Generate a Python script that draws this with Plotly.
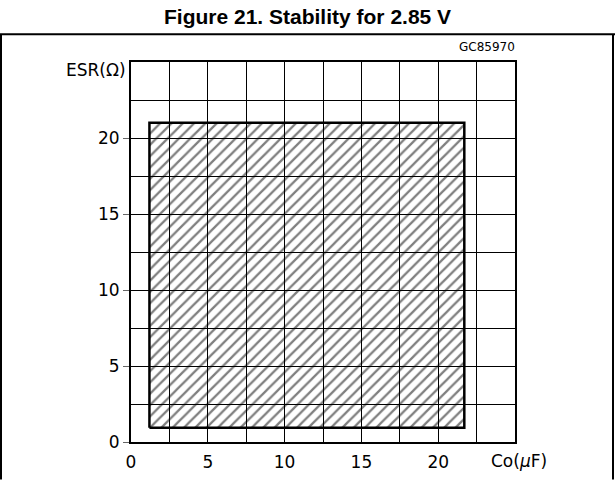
"""
Stability region chart (ESR vs output capacitance) for the 2.85 V version.
"""

import plotly.graph_objects as go

# data
co_ticks = [0, 5, 10, 15, 20]
esr_ticks = [0, 5, 10, 15, 20]
co_range = [0, 25]
esr_range = [0, 25]

# stable region: corners of the hatched box
co_min, co_max = 1.2, 21.7
esr_min, esr_max = 0.93, 21.0

W, H = 615, 484
L, R, T, B = 131, 100, 62, 38
PW, PH = W - L - R, H - T - B


def px(x):
    return (x - L) / PW


def py(y):
    return (H - B - y) / PH


fig = go.Figure()
fig.add_trace(
    go.Scatter(
        x=[co_min, co_max, co_max, co_min, co_min],
        y=[esr_min, esr_min, esr_max, esr_max, esr_min],
        mode="lines",
        fill="toself",
        fillcolor="rgba(0,0,0,0)",
        fillpattern=dict(shape="/", fgcolor="black", bgcolor="rgba(0,0,0,0)",
                         size=8, solidity=0.28),
        line=dict(color="black", width=2.5),
        hoverinfo="skip",
    )
)

tick_font = dict(family="DejaVu Sans", size=17, color="black")
axis_common = dict(
    showline=True, linecolor="black", linewidth=2, mirror=True,
    showgrid=True, gridcolor="black", gridwidth=1,
    minor=dict(dtick=2.5, tick0=0, showgrid=True, gridcolor="black", gridwidth=1),
    zeroline=False, tickfont=tick_font,
)
fig.update_xaxes(range=co_range, tickvals=co_ticks, ticks="",
                 ticklabelstandoff=4, **axis_common)
fig.update_yaxes(range=esr_range, tickvals=esr_ticks, ticks="outside",
                 ticklen=6, tickcolor="#666", **axis_common)

fig.add_annotation(text="ESR(Ω)", xref="paper", yref="paper",
                   x=px(128), y=py(70), xanchor="right", yanchor="middle",
                   showarrow=False, font=tick_font)
fig.add_annotation(text="Co(<i>μ</i>F)", xref="paper", yref="paper",
                   x=px(489), y=py(465), xanchor="left", yanchor="middle",
                   showarrow=False, font=tick_font)
fig.add_annotation(text="GC85970", xref="paper", yref="paper",
                   x=px(517), y=py(47), xanchor="right", yanchor="middle",
                   showarrow=False,
                   font=dict(family="DejaVu Sans", size=12, color="black"))
fig.add_annotation(text="<b>Figure 21. Stability for 2.85 V</b>",
                   xref="paper", yref="paper", x=px(307), y=py(16),
                   xanchor="center", yanchor="middle", showarrow=False,
                   font=dict(family="Liberation Sans", size=21, color="black"))

# frame around the figure with a rule under the title
frame = dict(type="line", xref="paper", yref="paper",
             line=dict(color="black", width=2))
fig.add_shape(x0=px(0), x1=px(W), y0=py(34), y1=py(34), **frame)
fig.add_shape(x0=px(1), x1=px(1), y0=py(34), y1=py(H), **frame)
fig.add_shape(x0=px(613), x1=px(613), y0=py(34), y1=py(H), **frame)

fig.update_layout(
    width=W, height=H,
    margin=dict(l=L, r=R, t=T, b=B),
    paper_bgcolor="white", plot_bgcolor="white",
    showlegend=False,
)

# the page's default body margin would shift the figure by 8px
fig.write_html("out.html", config={"displayModeBar": False},
               post_script="document.body.style.margin='0';")
